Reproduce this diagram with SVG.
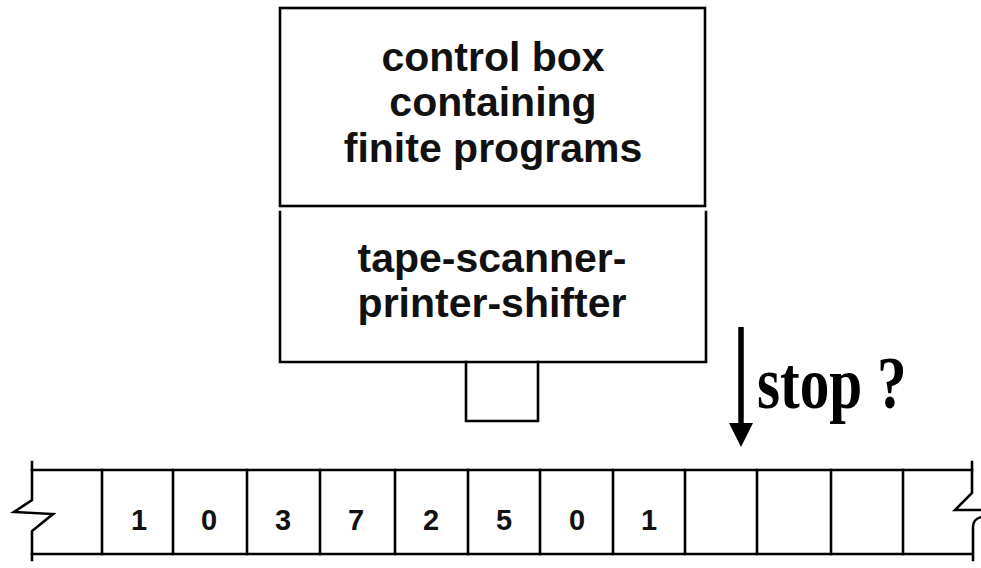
<svg xmlns="http://www.w3.org/2000/svg" width="981" height="568" viewBox="0 0 981 568">
<defs>
<style>
.ln{fill:none;stroke:#000;stroke-width:2.6;stroke-linecap:square}
.bx{font-family:"Liberation Sans",Arial,sans-serif;font-weight:bold;font-size:41px;text-anchor:middle;fill:#111}
.dg{font-family:"Liberation Sans",Arial,sans-serif;font-weight:bold;font-size:29px;text-anchor:middle;fill:#111}
.st{font-family:"Liberation Serif","Times New Roman",serif;font-weight:bold;font-size:74px;fill:#000}
</style>
</defs>
<rect width="981" height="568" fill="#fff"/>
<g id="control-box">
<rect class="ln" x="280" y="8" width="425" height="198"/>
<text class="bx" x="493" y="71">control box</text>
<text class="bx" x="493" y="116">containing</text>
<text class="bx" x="493" y="162">finite programs</text>
</g>
<g id="scanner">
<path class="ln" d="M280 212 V362 H706 V212"/>
<text class="bx" x="492" y="272">tape-scanner-</text>
<text class="bx" x="492" y="317">printer-shifter</text>
</g>
<g id="head">
<path class="ln" d="M466 362 V421 H538 V362"/>
</g>
<g id="tape">
<path class="ln" d="M32 470 H972 M32 554 H972"/>
<path class="ln" d="M32 462 V500 L14 512 L53 514 L32 531 V560"/>
<path class="ln" d="M972 462 V493 L955 510 H981 M981 517 Q973 519 973 527 V560"/>
<path class="ln" d="M102 470V554M173 470V554M247 470V554M320 470V554M395 470V554M468 470V554M540 470V554M613 470V554M685 470V554M757 470V554M831 470V554M903 470V554"/>
<text class="dg" x="139" y="530">1</text>
<text class="dg" x="209" y="530">0</text>
<text class="dg" x="283" y="530">3</text>
<text class="dg" x="356" y="530">7</text>
<text class="dg" x="431" y="530">2</text>
<text class="dg" x="504" y="530">5</text>
<text class="dg" x="577" y="530">0</text>
<text class="dg" x="649" y="530">1</text>
</g>
<g id="connectors">
<line x1="741" y1="327" x2="741" y2="425" stroke="#000" stroke-width="5.5"/>
<polygon points="729,423 753,423 741,447" fill="#000"/>
</g>
<g id="stop-label">
<text class="st" transform="translate(757,408) scale(0.8,1)">stop ?</text>
</g>
</svg>
